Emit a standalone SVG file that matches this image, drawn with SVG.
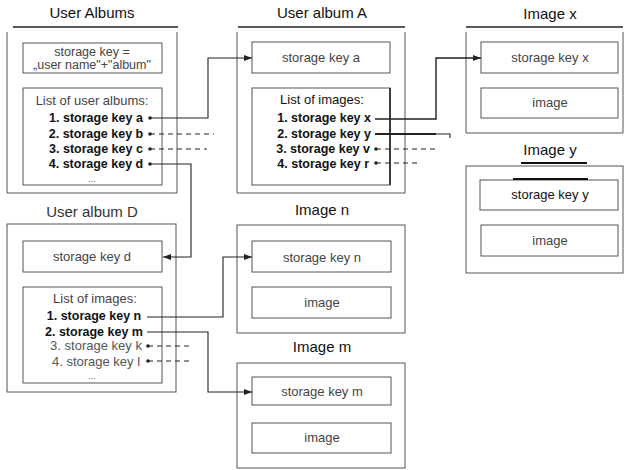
<svg xmlns="http://www.w3.org/2000/svg" width="632" height="470" viewBox="0 0 632 470">
  <style>
    .title { font-family: "Liberation Sans", Arial, sans-serif; font-size: 15px; fill: #111; text-anchor: middle; }
    .txt { font-family: "Liberation Sans", Arial, sans-serif; font-size: 13px; fill: #444; text-anchor: middle; }
    .key { font-family: "Liberation Sans", Arial, sans-serif; font-size: 12.5px; fill: #111; font-weight: bold; }
    .grey { font-family: "Liberation Sans", Arial, sans-serif; font-size: 13px; fill: #555; }
    .more { font-family: "Liberation Sans", Arial, sans-serif; font-size: 9px; fill: #555; text-anchor: middle; }
    .box { fill: none; stroke: #555; stroke-width: 1; }
    .head { fill: none; stroke: #222; stroke-width: 1.5; }
    .link { fill: none; stroke: #222; stroke-width: 1.1; }
    .dash { fill: none; stroke: #222; stroke-width: 1.1; stroke-dasharray: 5 4; }
    .dot { fill: #222; }
  </style>
  <defs>
    <marker id="arrow" viewBox="0 0 8 6" refX="8" refY="3" markerWidth="8" markerHeight="6" markerUnits="userSpaceOnUse" orient="auto">
      <path d="M0 0 L8 3 L0 6 z" fill="#222"/>
    </marker>
  </defs>
  <rect width="632" height="470" fill="#fff"/>

  <!-- User Albums -->
  <g id="user-albums">
    <text class="title" x="92" y="18">User Albums</text>
    <path class="head" d="M13 27 H178"/>
    <path class="box" d="M7 32 V193 H177 V32"/>
    <rect class="box" x="23" y="43" width="139" height="30"/>
    <text class="txt" x="92" y="56" style="font-size:12.5px">storage key =</text>
    <text class="txt" x="92" y="69" style="font-size:12.5px">„user name"+"album"</text>
    <rect class="box" x="23" y="88" width="139" height="97"/>
    <text class="txt" x="92" y="105">List of user albums:</text>
    <text class="key" x="96" y="122" text-anchor="middle">1. storage key a</text>
    <text class="key" x="96" y="138" text-anchor="middle">2. storage key b</text>
    <text class="key" x="96" y="153" text-anchor="middle">3. storage key c</text>
    <text class="key" x="96" y="168" text-anchor="middle">4. storage key d</text>
    <text class="more" x="92" y="182">...</text>
  </g>

  <!-- User album A -->
  <g id="user-album-a">
    <text class="title" x="322" y="18">User album A</text>
    <path class="head" d="M238 27 H405"/>
    <path class="box" d="M237 32 V193 H405 V32"/>
    <rect class="box" x="252" y="42" width="138" height="31"/>
    <text class="txt" x="321" y="62">storage key a</text>
    <rect class="box" x="252" y="88" width="138" height="97"/>
    <path d="M390 88 V185" stroke="#222" stroke-width="1.6"/>
    <text class="txt" x="322" y="104" style="fill:#111">List of images:</text>
    <text class="key" x="371" y="122" text-anchor="end">1. storage key x</text>
    <text class="key" x="371" y="138" text-anchor="end">2. storage key y</text>
    <text class="key" x="370" y="153" text-anchor="end">3. storage key v</text>
    <text class="key" x="369" y="168" text-anchor="end">4. storage key r</text>
  </g>

  <!-- Image x -->
  <g id="image-x">
    <text class="title" x="550" y="19">Image x</text>
    <path class="head" d="M466 27 H623"/>
    <path class="box" d="M466 32 V133 H623 V32"/>
    <rect class="box" x="481" y="42" width="137" height="31"/>
    <text class="txt" x="550" y="62">storage key x</text>
    <rect class="box" x="481" y="88" width="137" height="30"/>
    <text class="txt" x="550" y="107">image</text>
  </g>

  <!-- Image y -->
  <g id="image-y">
    <text class="title" x="550" y="155">Image y</text>
    <path d="M521 163 H587" stroke="#111" stroke-width="2"/>
    <rect class="box" x="466" y="166" width="157" height="107"/>
    <rect class="box" x="480" y="180" width="138" height="30"/>
    <path d="M513 179 H588" stroke="#111" stroke-width="2"/>
    <text class="txt" x="550" y="199" style="fill:#111">storage key y</text>
    <rect class="box" x="481" y="225" width="137" height="31"/>
    <text class="txt" x="550" y="245">image</text>
  </g>

  <!-- User album D -->
  <g id="user-album-d">
    <text class="title" x="92" y="217" style="fill:#333">User album D</text>
    <rect class="box" x="7" y="224" width="169" height="168"/>
    <rect class="box" x="23" y="241" width="139" height="31"/>
    <text class="txt" x="92" y="261">storage key d</text>
    <rect class="box" x="23" y="287" width="139" height="96"/>
    <text class="txt" x="95" y="303">List of images:</text>
    <text class="key" x="94" y="320" text-anchor="middle">1. storage key n</text>
    <text class="key" x="94" y="336" text-anchor="middle">2. storage key m</text>
    <text class="grey" x="96" y="350" text-anchor="middle">3. storage key k</text>
    <text class="grey" x="96" y="366" text-anchor="middle">4. storage key l</text>
    <text class="more" x="92" y="379">...</text>
  </g>

  <!-- Image n -->
  <g id="image-n">
    <text class="title" x="322" y="215">Image n</text>
    <rect class="box" x="237" y="225" width="168" height="108"/>
    <rect class="box" x="252" y="241" width="139" height="31"/>
    <text class="txt" x="322" y="262">storage key n</text>
    <rect class="box" x="252" y="287" width="139" height="31"/>
    <text class="txt" x="322" y="307">image</text>
  </g>

  <!-- Image m -->
  <g id="image-m">
    <text class="title" x="322" y="352">Image m</text>
    <rect class="box" x="237" y="363" width="168" height="105"/>
    <rect class="box" x="252" y="377" width="139" height="28"/>
    <text class="txt" x="322" y="396">storage key m</text>
    <rect class="box" x="252" y="423" width="139" height="30"/>
    <text class="txt" x="322" y="442">image</text>
  </g>

  <!-- Connectors -->
  <g id="connectors">
    <path class="link" d="M150 118 H208 V58 H252" marker-end="url(#arrow)"/>
    <path class="dash" d="M150 134 H214"/>
    <path class="dash" d="M150 149 H207"/>
    <path class="link" d="M150 164 H191 V257 H163" marker-end="url(#arrow)"/>

    <path class="link" d="M375 119 H436 V58 H481" marker-end="url(#arrow)" style="stroke-width:1.4"/>
    <path class="link" d="M375 134 H436" style="stroke-width:1.8"/>
    <path class="link" d="M436 134 H450 V138"/>
    <path class="dash" d="M376 149 H436"/>
    <path class="dash" d="M376 163 H418"/>

    <path class="link" d="M147 317 H223 V257 H252" marker-end="url(#arrow)"/>
    <path class="link" d="M147 332 H208 V392 H252" marker-end="url(#arrow)"/>
    <path class="dash" d="M148 346 H190"/>
    <path class="dash" d="M148 361 H190"/>

    <circle class="dot" cx="150" cy="118" r="1.8"/>
    <circle class="dot" cx="150" cy="134" r="1.8"/>
    <circle class="dot" cx="150" cy="149" r="1.8"/>
    <circle class="dot" cx="150" cy="164" r="1.8"/>
    <circle class="dot" cx="376" cy="149" r="1.8"/>
    <circle class="dot" cx="376" cy="163" r="1.8"/>
    <circle class="dot" cx="148" cy="346" r="1.8"/>
    <circle class="dot" cx="148" cy="361" r="1.8"/>
  </g>
</svg>
